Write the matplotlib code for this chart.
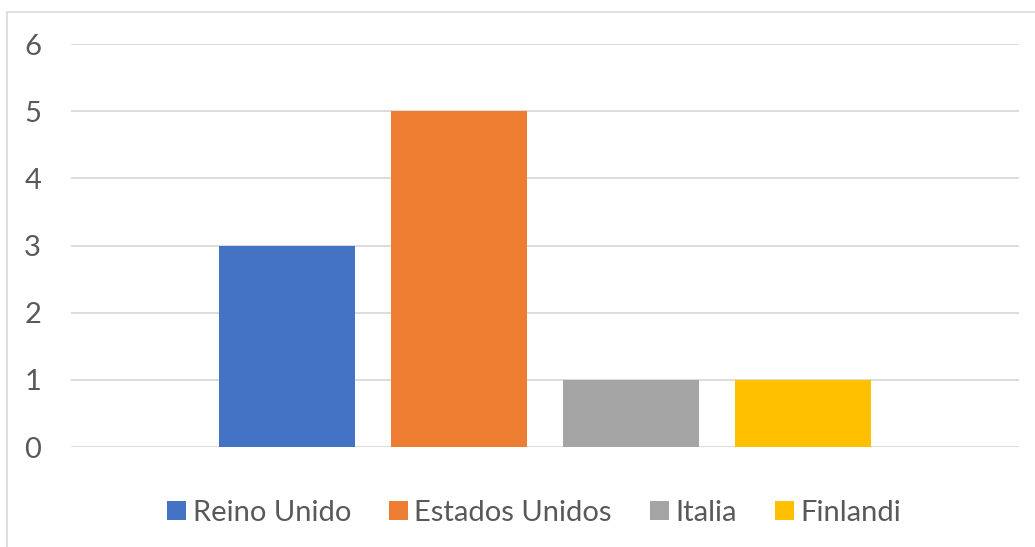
import matplotlib
matplotlib.use("Agg")
import matplotlib.pyplot as plt
from matplotlib.patches import Patch, Rectangle

series = ["Reino Unido", "Estados Unidos", "Italia", "Finlandi"]
values = [3, 5, 1, 1]
colors = ["#4472C4", "#ED7D31", "#A5A5A5", "#FFC000"]
yticks = [0, 1, 2, 3, 4, 5, 6]

W, H = 1035, 547
fig = plt.figure(figsize=(W / 100, H / 100), dpi=100)
plt.rcParams['font.family'] = ['Lato', 'DejaVu Sans']

ax = fig.add_axes([71 / W, 1 - 447 / H, (1019 - 71) / W, (447 - 44) / H])
xs = list(range(len(series)))
ax.bar(xs, values, width=136 / 172, color=colors, zorder=3)
ax.set_xlim(-1.256, 3 + 1.256)
ax.set_ylim(0, 6)
ax.set_yticks(yticks)
ax.set_yticklabels([str(t) for t in yticks])
ax.set_xticks([])
ax.grid(axis='y', color='#d9d9d9', linewidth=1.3, zorder=0)
for s in ax.spines.values():
    s.set_visible(False)
ax.tick_params(axis='y', length=0, pad=21.5, labelsize=21, labelcolor='#595959')

handles = [Patch(facecolor=c, edgecolor='none') for c in colors]
fig.legend(handles, series, loc='center', bbox_to_anchor=(534 / W, 1 - 513 / H),
           ncol=4, frameon=False, fontsize=21, labelcolor='#595959',
           handlelength=0.65, handleheight=0.65, handletextpad=0.22,
           columnspacing=1.3, borderpad=0)

fig.patches.append(Rectangle((7 / W, -0.1), 1.2, 1.1 - 12 / H, transform=fig.transFigure,
                             fill=False, edgecolor='#d9d9d9', linewidth=1.2))

fig.savefig("out.png", dpi=100)
